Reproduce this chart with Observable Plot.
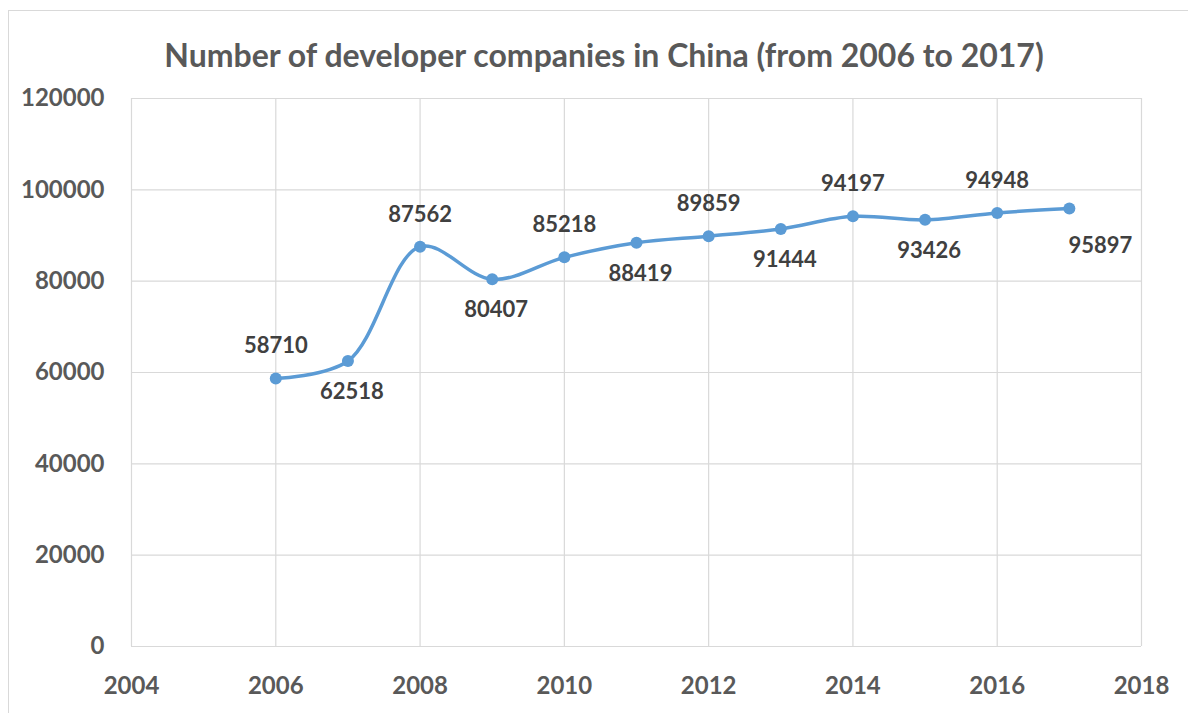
<!DOCTYPE html>
<html>
<head>
<meta charset="utf-8">
<script src="https://cdn.jsdelivr.net/npm/d3@7"></script>
<script src="https://cdn.jsdelivr.net/npm/@observablehq/plot@0.6"></script>
<style>
  html, body { margin: 0; padding: 0; background: #fff; }
  #frame { position: relative; width: 1188px; height: 713px; overflow: hidden; }
  #border { position: absolute; left: 8px; top: 10px; width: 1200px; height: 720px; border: 1px solid #d9d9d9; box-sizing: border-box; }
  #title { position: absolute; left: 20px; width: 1168px; top: 33px; line-height: 44px; text-align: center;
           font-family: Lato, sans-serif; font-weight: bold; font-size: 32px; color: #595959; }
  #chart { position: absolute; left: 0; top: 80px; }
</style>
</head>
<body>
<div id="frame">
  <div id="border"></div>
  <div id="title">Number of developer companies in China (from 2006 to 2017)</div>
  <div id="chart"></div>
</div>
<script>
const years = [2006, 2007, 2008, 2009, 2010, 2011, 2012, 2013, 2014, 2015, 2016, 2017];
const values = [58710, 62518, 87562, 80407, 85218, 88419, 89859, 91444, 94197, 93426, 94948, 95897];
const xTicks = [2004, 2006, 2008, 2010, 2012, 2014, 2016, 2018];
const yTicks = [0, 20000, 40000, 60000, 80000, 100000, 120000];

const data = years.map((year, i) => ({year, value: values[i], i}));
const last = data.length - 1;
const above = data.filter(d => d.i % 2 === 0);
const below = data.filter(d => d.i % 2 === 1 && d.i !== last);
const lastPt = data.filter(d => d.i === last);

const font = "Lato, sans-serif";
const blue = "#5B9BD5";
const grid = "#d9d9d9";

const chart = Plot.plot({
  width: 1188,
  height: 633,
  marginTop: 18,
  marginBottom: 67,
  marginLeft: 131,
  marginRight: 47,
  style: {fontFamily: font, fontSize: "24px", fontWeight: "bold", color: "#595959", background: "transparent"},
  x: {domain: [2004, 2018], ticks: xTicks, tickFormat: d => String(d), tickSize: 0, tickPadding: 30, label: null},
  y: {domain: [0, 120000], ticks: yTicks, tickFormat: d => String(d), tickSize: 0, tickPadding: 27, label: null},
  marks: [
    Plot.ruleX(xTicks, {stroke: grid, strokeWidth: 1.2, strokeOpacity: 1}),
    Plot.ruleY(yTicks, {stroke: grid, strokeWidth: 1.2, strokeOpacity: 1}),
    Plot.axisX({ticks: xTicks, tickFormat: d => String(d), tickSize: 0, tickPadding: 30, label: null, fill: "#595959", fontSize: 24}),
    Plot.axisY({ticks: yTicks, tickFormat: d => String(d), tickSize: 0, tickPadding: 27, label: null, fill: "#595959", fontSize: 24}),
    Plot.line(data, {x: "year", y: "value", stroke: blue, strokeWidth: 3.5, curve: "catmull-rom"}),
    Plot.dot(data, {x: "year", y: "value", fill: blue, r: 6}),
    Plot.text(above, {x: "year", y: "value", text: d => String(d.value), dy: -32, fill: "#404040", fontSize: 22, fontWeight: "bold", lineAnchor: "middle"}),
    Plot.text(below, {x: "year", y: "value", text: d => String(d.value), dy: 31, dx: 4, fill: "#404040", fontSize: 22, fontWeight: "bold", lineAnchor: "middle"}),
    Plot.text(lastPt, {x: "year", y: "value", text: d => String(d.value), dy: 37, dx: 31, fill: "#404040", fontSize: 22, fontWeight: "bold", lineAnchor: "middle"})
  ]
});
document.getElementById("chart").appendChild(chart);
</script>
</body>
</html>
